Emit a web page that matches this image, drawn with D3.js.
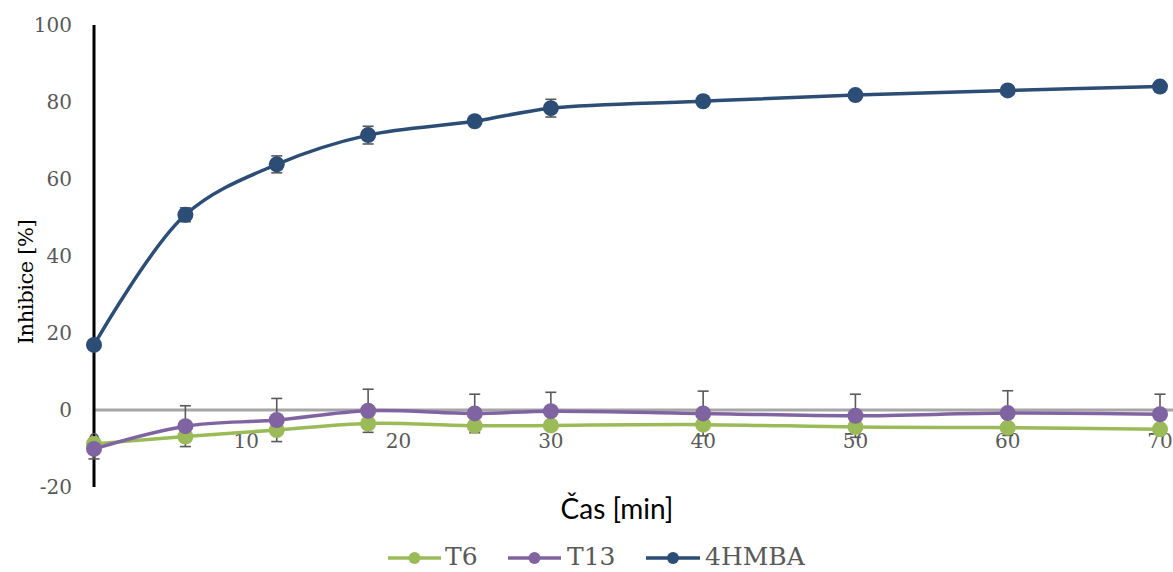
<!DOCTYPE html>
<html>
<head>
<meta charset="utf-8">
<script src="https://cdn.jsdelivr.net/npm/d3@7"></script>
<style>
  html, body { margin: 0; padding: 0; background: #fff; }
  svg { display: block; }
</style>
</head>
<body>
<svg id="chart" width="1173" height="572"></svg>
<script>
// ---- data ----
const times = [0, 6, 12, 18, 25, 30, 40, 50, 60, 70];
const seriesNames = ["T6", "T13", "4HMBA"];
const valuesT6 = [-8.8, -6.9, -5.2, -3.5, -4.1, -4.0, -3.8, -4.4, -4.6, -5.0];
const valuesT13 = [-10.1, -4.2, -2.6, -0.2, -0.9, -0.3, -0.9, -1.5, -0.8, -1.1];
const values4HMBA = [16.9, 50.7, 63.8, 71.4, 75.0, 78.4, 80.2, 81.8, 83.0, 84.0];
const errT6 = [1.0, 1.0, 1.0, 1.0, 1.0, 1.0, 1.0, 1.0, 1.0, 1.0];
const errT13 = [2.6, 5.3, 5.6, 5.6, 5.0, 4.9, 5.8, 5.6, 5.8, 5.2];
const err4HMBA = [0.8, 1.8, 2.2, 2.3, 1.0, 2.3, 1.2, 1.0, 1.0, 1.0];
const xTicks = [0, 10, 20, 30, 40, 50, 60, 70];
const yTicks = [-20, 0, 20, 40, 60, 80, 100];
const colors = ["#9BBB59", "#8064A2", "#2C4D75"];

const serif = "'DejaVu Serif', serif";
const svg = d3.select("#chart");
const x = d3.scaleLinear().domain([0, 70]).range([94, 1160]);
const y = d3.scaleLinear().domain([-20, 100]).range([487, 25]);

const series = [
  { name: seriesNames[0], vals: valuesT6, err: errT6, color: colors[0] },
  { name: seriesNames[1], vals: valuesT13, err: errT13, color: colors[1] },
  { name: seriesNames[2], vals: values4HMBA, err: err4HMBA, color: colors[2] }
];

// zero line
svg.append("line")
  .attr("x1", x(0)).attr("x2", 1173)
  .attr("y1", y(0)).attr("y2", y(0))
  .attr("stroke", "#A6A6A6").attr("stroke-width", 3);

// y axis line
svg.append("line")
  .attr("x1", x(0)).attr("x2", x(0))
  .attr("y1", y(100)).attr("y2", y(-20))
  .attr("stroke", "#000").attr("stroke-width", 3);

// y tick labels
svg.append("g").selectAll("text").data(yTicks).join("text")
  .attr("x", 72).attr("y", d => y(d))
  .attr("dy", "0.36em")
  .attr("text-anchor", "end")
  .attr("font-family", serif)
  .attr("font-size", 20)
  .attr("fill", "#595959")
  .text(d => d);

// x tick labels
svg.append("g").selectAll("text").data(xTicks).join("text")
  .attr("x", d => x(d)).attr("y", 448)
  .attr("text-anchor", "middle")
  .attr("font-family", serif)
  .attr("font-size", 20)
  .attr("fill", "#595959")
  .text(d => d);

// axis titles
svg.append("text")
  .attr("transform", `translate(33, ${282}) rotate(-90)`)
  .attr("text-anchor", "middle")
  .attr("font-family", serif)
  .attr("font-size", 21)
  .attr("letter-spacing", -0.4)
  .attr("fill", "#000")
  .text("Inhibice [%]");

svg.append("text")
  .attr("x", 617).attr("y", 519)
  .attr("text-anchor", "middle")
  .attr("font-family", "Lato, sans-serif")
  .attr("font-size", 28)
  .attr("fill", "#000")
  .text("Čas [min]");

// error bars
const eb = svg.append("g").attr("stroke", "#595959").attr("stroke-width", 1.6).attr("fill", "none");
series.forEach(s => {
  times.forEach((t, i) => {
    const v = s.vals[i], e = s.err[i];
    const cx = x(t);
    eb.append("line").attr("x1", cx).attr("x2", cx).attr("y1", y(v + e)).attr("y2", y(v - e));
    eb.append("line").attr("x1", cx - 5.5).attr("x2", cx + 5.5).attr("y1", y(v + e)).attr("y2", y(v + e));
    eb.append("line").attr("x1", cx - 5.5).attr("x2", cx + 5.5).attr("y1", y(v - e)).attr("y2", y(v - e));
  });
});

// lines + markers
const line = d3.line().x(d => x(d[0])).y(d => y(d[1])).curve(d3.curveCatmullRom.alpha(0.5));
series.forEach(s => {
  const pts = times.map((t, i) => [t, s.vals[i]]);
  svg.append("path").datum(pts)
    .attr("d", line)
    .attr("fill", "none")
    .attr("stroke", s.color)
    .attr("stroke-width", 3.5);
  svg.append("g").selectAll("circle").data(pts).join("circle")
    .attr("cx", d => x(d[0])).attr("cy", d => y(d[1]))
    .attr("r", 8)
    .attr("fill", s.color);
});

// legend
const legendItems = [
  { x1: 388, x2: 441, tx: 445 },
  { x1: 508, x2: 561, tx: 567 },
  { x1: 646, x2: 700, tx: 705 }
];
const lg = svg.append("g");
series.forEach((s, i) => {
  const li = legendItems[i];
  lg.append("line").attr("x1", li.x1).attr("x2", li.x2).attr("y1", 558).attr("y2", 558)
    .attr("stroke", s.color).attr("stroke-width", 3.5);
  lg.append("circle").attr("cx", (li.x1 + li.x2) / 2).attr("cy", 558).attr("r", 6).attr("fill", s.color);
  lg.append("text").attr("x", li.tx).attr("y", 565)
    .attr("font-family", serif).attr("font-size", 25).attr("fill", "#595959")
    .text(s.name);
});
</script>
</body>
</html>
